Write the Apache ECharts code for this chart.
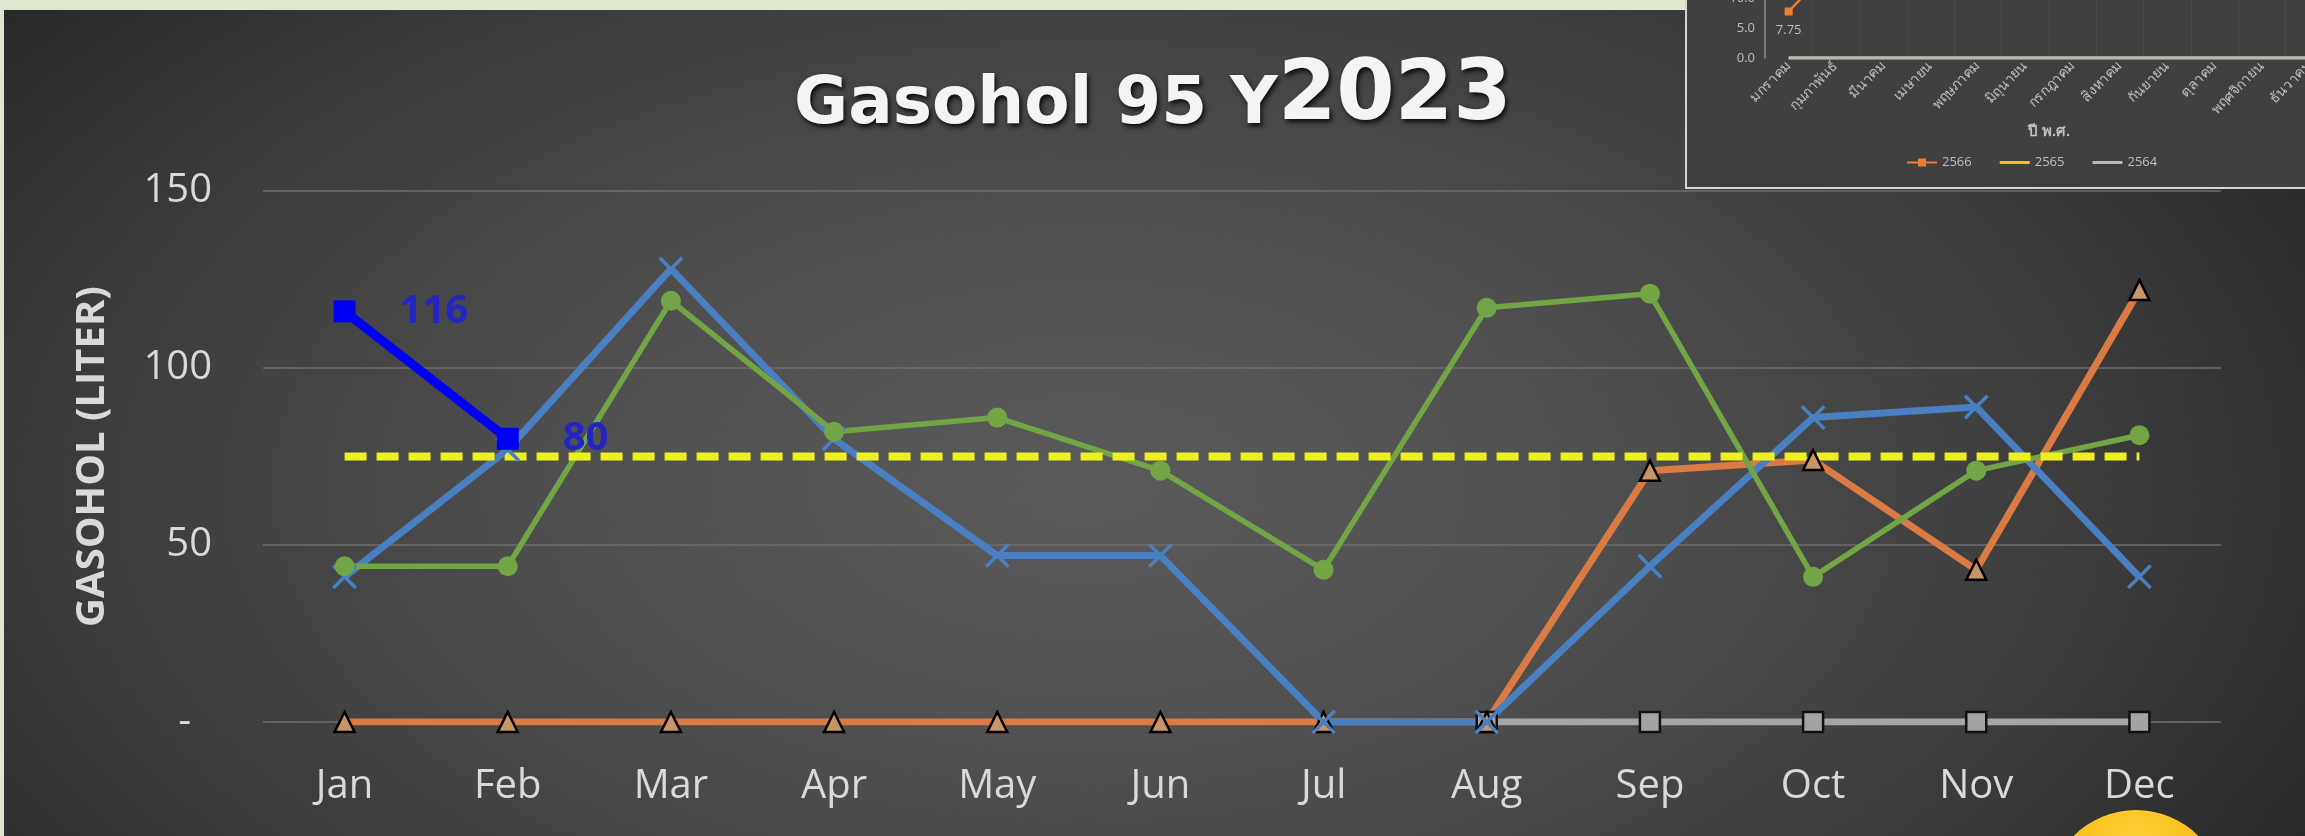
<!DOCTYPE html>
<html>
<head>
<meta charset="utf-8">
<title>Gasohol 95 Y2023</title>
<script src="https://cdn.jsdelivr.net/npm/echarts@6.0.0/dist/echarts.min.js"></script>
<style>
  html, body { margin: 0; padding: 0; }
  body { width: 2305px; height: 836px; background: #dfe6d0; position: relative; overflow: hidden; }
  #bg {
    position: absolute; left: 4px; top: 10px; width: 2301px; height: 826px;
    background: radial-gradient(ellipse 62% 95% at 47% 58%, #5a5a5a 0%, #505050 35%, #3c3c3c 70%, #272727 100%);
  }
  #main { position: absolute; left: 0; top: 0; width: 2305px; height: 836px; }
  #insetBox {
    position: absolute; left: 1685px; top: 0; width: 620px; height: 189px;
    box-sizing: border-box; background: #404040; overflow: hidden;
    border-left: 2px solid #d4d4d4; border-bottom: 2px solid #d4d4d4;
  }
  #inset { position: absolute; left: 0; top: -130px; width: 700px; height: 317px; }
  #sun {
    position: absolute; left: 2048px; top: 810px; width: 176px; height: 176px;
    border-radius: 50%; background: radial-gradient(circle at 50% 20%, #ffd23a 0%, #f5b50a 60%, #f0a800 100%);
  }
</style>
</head>
<body>
<div id="bg"></div>
<div id="main"></div>
<div id="sun"></div>
<div id="insetBox"><div id="inset"></div></div>
<script>
  // main chart data
  const months = ['Jan', 'Feb', 'Mar', 'Apr', 'May', 'Jun', 'Jul', 'Aug', 'Sep', 'Oct', 'Nov', 'Dec']
  const greyData = [null, null, null, null, null, null, null, 0, 0, 0, 0, 0]
  const orangeData = [0, 0, 0, 0, 0, 0, 0, 0, 71, 74, 43, 122]
  const steelData = [41, 77, 128, 80, 47, 47, 0, 0, 44, 86, 89, 41]
  const greenData = [44, 44, 119, 82, 86, 71, 43, 117, 121, 41, 71, 81]
  const avgData = [75, 75, 75, 75, 75, 75, 75, 75, 75, 75, 75, 75]
  const blueData = [116, 80, null, null, null, null, null, null, null, null, null, null]
  const yTicks = { min: 0, max: 150, interval: 50 }

  // inset chart data (ปี พ.ศ.)
  const thaiMonths = ['มกราคม', 'กุมภาพันธ์', 'มีนาคม', 'เมษายน', 'พฤษภาคม', 'มิถุนายน',
    'กรกฎาคม', 'สิงหาคม', 'กันยายน', 'ตุลาคม', 'พฤศจิกายน', 'ธันวาคม']
  const y2566 = [7.75, 16]
  const y2565 = [0, 0, 0, 0, 0, 0, 0, 0, 0, 0, 0, 0]
  const y2564 = [0, 0, 0, 0, 0, 0, 0, 0, 0, 0, 0, 0]

  const labelColor = '#d9d9d9'
  const font = 'Open Sans'
  const crossPath = 'path://M0,2L2,0L10,8L18,0L20,2L12,10L20,18L18,20L10,12L2,20L0,18L8,10Z'
  const lineIcon = 'path://M0,0H30V3H0Z'

  const mainChart = echarts.init(document.getElementById('main'), null, { renderer: 'canvas' })
  mainChart.setOption({
    backgroundColor: 'transparent',
    animation: false,
    title: {
      left: 789,
      top: 42,
      text: '{a|Gasohol 95 Y}{b|2023}',
      textStyle: {
        rich: {
          a: {
            fontFamily: 'DejaVu Sans', fontWeight: 'bold', fontSize: 66, color: '#f4f4f4',
            verticalAlign: 'bottom', lineHeight: 92,
            textShadowColor: 'rgba(0,0,0,0.85)', textShadowBlur: 5, textShadowOffsetX: 2, textShadowOffsetY: 3
          },
          b: {
            fontFamily: 'DejaVu Sans', fontWeight: 'bold', fontSize: 84, color: '#f4f4f4',
            verticalAlign: 'bottom', lineHeight: 92,
            textShadowColor: 'rgba(0,0,0,0.85)', textShadowBlur: 5, textShadowOffsetX: 2, textShadowOffsetY: 3
          }
        }
      }
    },
    grid: { left: 263, top: 191, width: 1958, height: 531 },
    xAxis: {
      type: 'category',
      data: months,
      boundaryGap: true,
      axisLine: { show: false },
      axisTick: { show: false },
      axisLabel: { color: labelColor, fontFamily: font, fontSize: 40, margin: 45, interval: 0 }
    },
    yAxis: {
      type: 'value',
      min: yTicks.min,
      max: yTicks.max,
      interval: yTicks.interval,
      name: 'GASOHOL (LITER)',
      nameLocation: 'middle',
      nameGap: 150,
      nameRotate: 90,
      nameTextStyle: { color: labelColor, fontFamily: font, fontWeight: 'bold', fontSize: 40 },
      axisLine: { show: false },
      axisTick: { show: false },
      axisLabel: {
        color: labelColor, fontFamily: font, fontSize: 40, margin: 51,
        formatter: (v) => (v === 0 ? '-  ' : String(v))
      },
      splitLine: { lineStyle: { color: '#6e6e6e', width: 1.5 } }
    },
    series: [
      {
        name: 'grey', type: 'line', data: greyData,
        lineStyle: { color: '#a6a6a6', width: 7 },
        symbol: 'rect', symbolSize: 20,
        itemStyle: { color: '#a3a3a3', borderColor: '#111', borderWidth: 2.5 }
      },
      {
        name: 'orange', type: 'line', data: orangeData,
        lineStyle: { color: '#d97b42', width: 7 },
        symbol: 'triangle', symbolSize: 20,
        itemStyle: { color: '#c8946a', borderColor: '#000', borderWidth: 2.5 }
      },
      {
        name: 'steel', type: 'line', data: steelData,
        lineStyle: { color: '#4a7fc1', width: 7 },
        symbol: crossPath, symbolSize: 25,
        itemStyle: { color: '#4a7fc1' }
      },
      {
        name: 'green', type: 'line', data: greenData,
        lineStyle: { color: '#72a545', width: 5.5 },
        symbol: 'circle', symbolSize: 20,
        itemStyle: { color: '#72a545' }
      },
      {
        name: 'average', type: 'line', data: avgData,
        lineStyle: { color: '#eef01e', width: 8, type: [22, 10] },
        symbol: 'none'
      },
      {
        name: 'blue', type: 'line', data: blueData,
        lineStyle: { color: '#0000f2', width: 9 },
        symbol: 'rect', symbolSize: 22,
        itemStyle: { color: '#0000f2' },
        label: {
          show: true, position: 'right', distance: 44,
          color: '#2424c4', fontFamily: font, fontWeight: 'bold', fontSize: 40
        }
      }
    ]
  })

  const insetText = '#bfbfbf'
  const insetChart = echarts.init(document.getElementById('inset'), null, { renderer: 'canvas' })
  insetChart.setOption({
    backgroundColor: 'transparent',
    animation: false,
    grid: { left: 78, top: 8, width: 568, height: 180 },
    legend: {
      left: 214, top: 281,
      itemWidth: 30, itemHeight: 10, itemGap: 28,
      textStyle: { color: insetText, fontFamily: font, fontSize: 13 },
      data: [
        { name: '2566' },
        { name: '2565', icon: lineIcon },
        { name: '2564', icon: lineIcon }
      ]
    },
    xAxis: {
      type: 'category',
      data: thaiMonths,
      boundaryGap: true,
      name: 'ปี พ.ศ.',
      nameLocation: 'middle',
      nameGap: 66,
      nameTextStyle: { color: insetText, fontWeight: 'bold', fontSize: 15 },
      axisLine: { show: false },
      axisTick: { show: false },
      splitLine: { show: true, lineStyle: { color: '#4a4a4a', width: 1 } },
      axisLabel: { color: insetText, fontSize: 14, rotate: 45, margin: 6, interval: 0 }
    },
    yAxis: {
      type: 'value',
      min: 0,
      max: 30,
      interval: 5,
      axisLine: { show: true, lineStyle: { color: '#8c8c8c', width: 1.5 } },
      axisTick: { show: false },
      splitLine: { show: false },
      axisLabel: { color: insetText, fontFamily: font, fontSize: 13, margin: 10, formatter: (v) => v.toFixed(1) }
    },
    series: [
      {
        name: '2566', type: 'line', data: y2566, z: 4,
        lineStyle: { color: '#ed7d31', width: 2.5 },
        symbol: 'rect', symbolSize: 8,
        itemStyle: { color: '#ed7d31' },
        label: {
          show: true, position: 'bottom', distance: 8, color: insetText, fontFamily: font, fontSize: 13,
          formatter: (p) => (p.dataIndex === 0 ? String(p.value) : '')
        }
      },
      {
        name: '2565', type: 'line', data: y2565, z: 1,
        lineStyle: { color: '#ffc000', width: 2.5 },
        itemStyle: { color: '#ffc000' },
        symbol: 'none'
      },
      {
        name: '2564', type: 'line', data: y2564, z: 3,
        lineStyle: { color: '#b8b8b8', width: 3.5 },
        itemStyle: { color: '#b8b8b8' },
        symbol: 'none'
      }
    ]
  })
</script>
</body>
</html>
